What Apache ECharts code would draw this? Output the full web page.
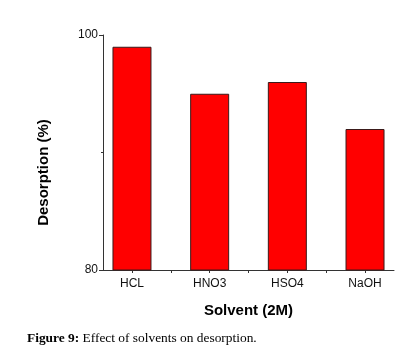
<!DOCTYPE html>
<html>
<head>
<meta charset="utf-8">
<script src="https://cdn.jsdelivr.net/npm/echarts@6/dist/echarts.min.js"></script>
<style>
  html, body { margin: 0; padding: 0; background: #fff; }
  #main { width: 413px; height: 354px; }
</style>
</head>
<body>
<div id="main"></div>
<script>
// solvents and desorption values
var solvents = ['HCL', 'HNO3', 'HSO4', 'NaOH'];
var desorption = [99, 95, 96, 92];
var yTicks = [80, 100];

var positions = solvents.map(function (s, i) { return i + 1; });
var midTicks = [1.5, 2.5, 3.5];

var myChart = echarts.init(document.getElementById('main'));
var option = {
    backgroundColor: '#fff',
    animation: false,
    title: {
        left: 27,
        top: 332,
        padding: 0,
        text: '{b|Figure 9:} Effect of solvents on desorption.',
        textStyle: {
            fontFamily: 'Liberation Serif',
            fontSize: 13.4,
            fontWeight: 'normal',
            color: '#000',
            rich: {
                b: { fontFamily: 'Liberation Serif', fontSize: 13.4, fontWeight: 'bold', color: '#000' }
            }
        }
    },
    grid: { left: 103, right: 19, top: 35, bottom: 84 },
    xAxis: {
        type: 'value',
        min: 0.627,
        max: 4.373,
        name: 'Solvent (2M)',
        nameLocation: 'middle',
        nameGap: 33,
        nameTextStyle: { fontFamily: 'Liberation Sans', fontSize: 15, fontWeight: 'bold', color: '#000' },
        splitLine: { show: false },
        axisLine: { show: true, lineStyle: { color: '#333', width: 1 } },
        axisTick: { show: true, length: 3, customValues: midTicks.concat(positions), lineStyle: { color: '#333' } },
        axisLabel: {
            customValues: positions,
            margin: 8,
            fontFamily: 'Liberation Sans',
            fontSize: 12,
            color: '#111',
            formatter: function (v) { return solvents[Math.round(v) - 1]; }
        }
    },
    yAxis: {
        type: 'value',
        min: yTicks[0],
        max: yTicks[1],
        interval: 20,
        name: 'Desorption (%)',
        nameLocation: 'middle',
        nameGap: 52,
        nameTextStyle: { fontFamily: 'Liberation Sans', fontSize: 15, fontWeight: 'bold', color: '#000', padding: [0, 40, 0, 0] },
        splitLine: { show: false },
        axisLine: { show: true, lineStyle: { color: '#333', width: 1 } },
        axisTick: { show: true, length: 4, lineStyle: { color: '#333' } },
        minorTick: { show: true, splitNumber: 2, length: 2, lineStyle: { color: '#333' } },
        axisLabel: { margin: 5, fontFamily: 'Liberation Sans', fontSize: 12, color: '#111' }
    },
    series: [{
        type: 'bar',
        barWidth: 39,
        data: positions.map(function (p, i) { return [p, desorption[i]]; }),
        itemStyle: { color: '#ff0000', borderColor: '#3a1a1a', borderWidth: 1 }
    }]
};
myChart.setOption(option);
</script>
</body>
</html>
